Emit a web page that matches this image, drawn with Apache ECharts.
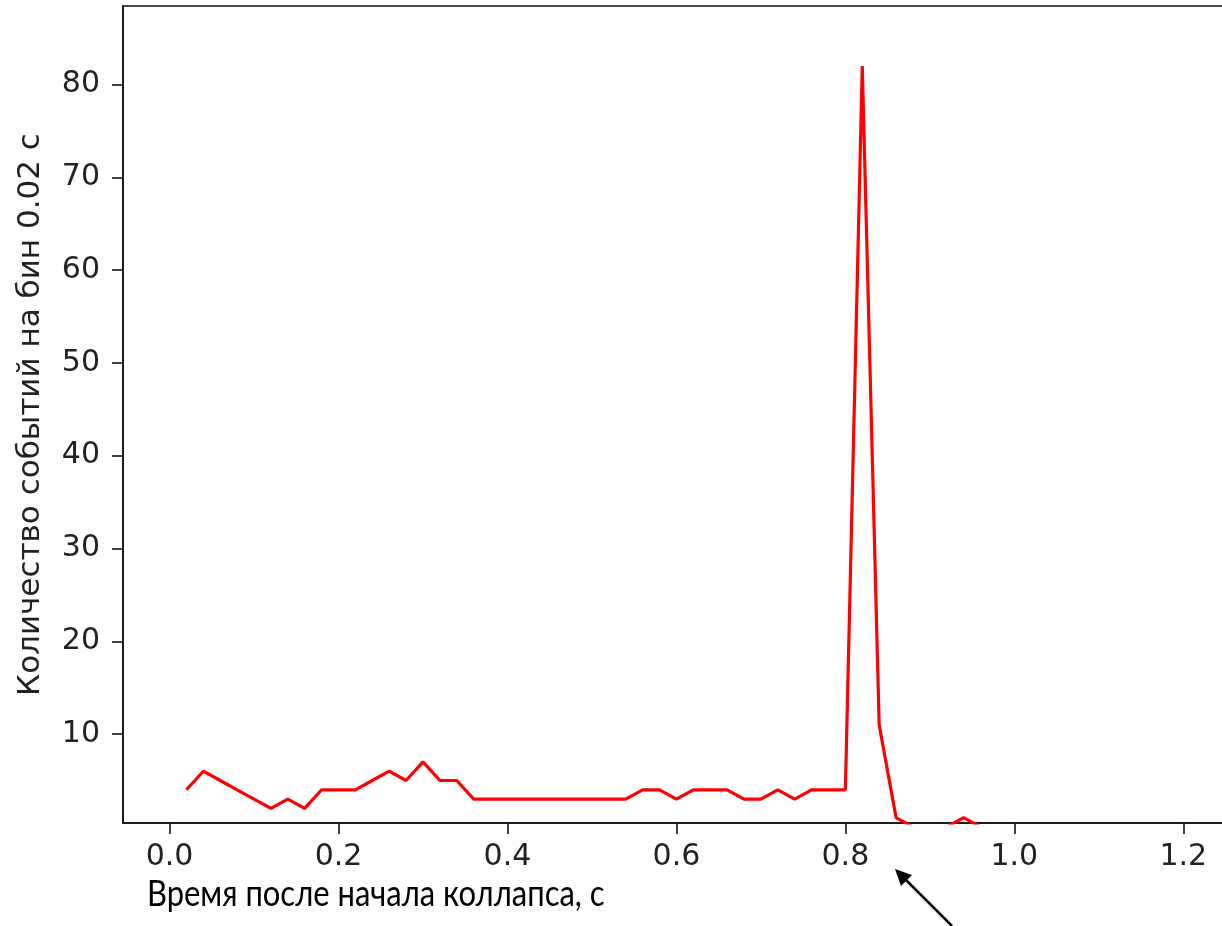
<!DOCTYPE html>
<html>
<head>
<meta charset="utf-8">
<script src="https://cdn.jsdelivr.net/npm/echarts@6/dist/echarts.min.js"></script>
<style>
    html, body { margin: 0; padding: 0; background: #fff; }
    #chart { width: 1222px; height: 926px; }
</style>
</head>
<body>
<div id="chart"></div>
<script>
    // время, с (бин 0.02 с)
    var times = [0.02, 0.04, 0.06, 0.08, 0.10, 0.12, 0.14, 0.16, 0.18, 0.20,
        0.22, 0.24, 0.26, 0.28, 0.30, 0.32, 0.34, 0.36, 0.38, 0.40,
        0.42, 0.44, 0.46, 0.48, 0.50, 0.52, 0.54, 0.56, 0.58, 0.60,
        0.62, 0.64, 0.66, 0.68, 0.70, 0.72, 0.74, 0.76, 0.78, 0.80,
        0.82, 0.84, 0.86, 0.88, 0.90, 0.92, 0.94, 0.96, 0.98, 1.00,
        1.02, 1.04, 1.06, 1.08, 1.10, 1.12, 1.14, 1.16, 1.18, 1.20,
        1.22, 1.24];
    // количество событий
    var counts = [4, 6, 5, 4, 3, 2, 3, 2, 4, 4,
        4, 5, 6, 5, 7, 5, 5, 3, 3, 3,
        3, 3, 3, 3, 3, 3, 3, 4, 4, 3,
        4, 4, 4, 3, 3, 4, 3, 4, 4, 4,
        82, 11, 1, 0, 0, 0, 1, 0, 0, 0,
        0, 0, 0, 0, 0, 0, 0, 0, 0, 0,
        0, 0];
    var xTicks = [0.0, 0.2, 0.4, 0.6, 0.8, 1.0, 1.2];
    var yTicks = [10, 20, 30, 40, 50, 60, 70, 80];

    var seriesData = [];
    for (var i = 0; i < times.length; i++) {
        seriesData.push([times[i], counts[i]]);
    }

    var myChart = echarts.init(document.getElementById('chart'));
    var tickFont = { fontFamily: 'DejaVu Sans', fontSize: 30, color: '#222' };

    var option = {
        animation: false,
        backgroundColor: '#fff',
        grid: {
            left: 123,
            top: 6,
            right: -20,
            bottom: 103,
            show: true,
            borderColor: '#111',
            borderWidth: 1.6,
            outerBoundsMode: 'none'
        },
        xAxis: {
            type: 'value',
            min: -0.0551,
            max: 1.2695,
            splitLine: { show: false },
            axisLine: { show: true, onZero: false, lineStyle: { color: '#111', width: 1.6 } },
            axisTick: { show: true, length: 11, customValues: xTicks, lineStyle: { color: '#111', width: 1.6 } },
            axisLabel: {
                customValues: xTicks,
                margin: 19,
                verticalAlign: 'top',
                fontFamily: tickFont.fontFamily,
                fontSize: tickFont.fontSize,
                color: tickFont.color,
                formatter: function(v) { return v.toFixed(1); }
            }
        },
        yAxis: {
            type: 'value',
            min: 0.42,
            max: 88.46,
            name: 'Количество событий на бин 0.02 с',
            nameLocation: 'middle',
            nameGap: 77,
            nameTextStyle: { fontFamily: 'DejaVu Sans', fontSize: 31, color: '#222' },
            splitLine: { show: false },
            axisLine: { show: true, onZero: false, lineStyle: { color: '#111', width: 1.6 } },
            axisTick: { show: true, length: 11, customValues: yTicks, lineStyle: { color: '#111', width: 1.6 } },
            axisLabel: {
                customValues: yTicks,
                margin: 23,
                fontFamily: tickFont.fontFamily,
                fontSize: tickFont.fontSize,
                color: tickFont.color
            }
        },
        series: [{
            type: 'line',
            data: seriesData,
            showSymbol: false,
            clip: true,
            lineStyle: { color: '#ff0000', width: 3.2 },
            itemStyle: { color: '#ff0000' }
        }],
        graphic: [
            {
                type: 'text',
                x: 147,
                y: 876,
                scaleX: 0.86,
                style: {
                    text: 'Время после начала коллапса, с',
                    fontFamily: 'Lato',
                    fontSize: 36,
                    fill: '#000'
                }
            },
            {
                type: 'line',
                shape: { x1: 952, y1: 926, x2: 906, y2: 880 },
                style: { stroke: '#000', lineWidth: 2.5 }
            },
            {
                type: 'polygon',
                shape: { points: [[895, 869], [912, 875], [901, 886]] },
                style: { fill: '#000' }
            }
        ]
    };
    myChart.setOption(option);
</script>
</body>
</html>
